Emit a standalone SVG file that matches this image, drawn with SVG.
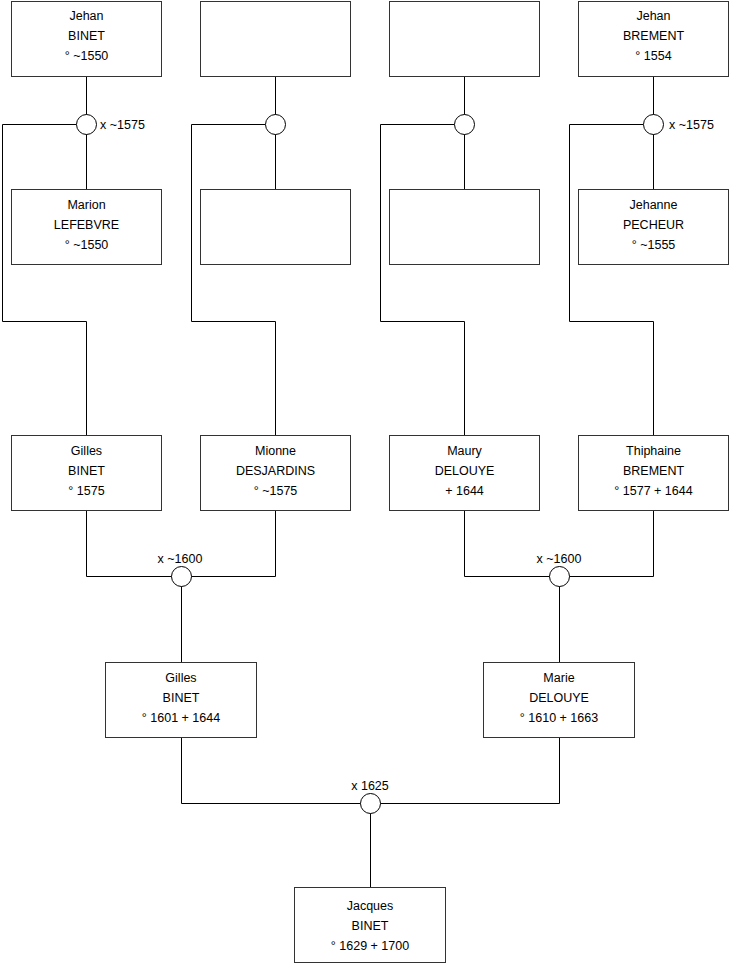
<svg xmlns="http://www.w3.org/2000/svg" width="740" height="975" viewBox="0 0 740 975">
<style>
.box{fill:#fff;stroke:#333;stroke-width:1}
.ln{fill:none;stroke:#000;stroke-width:1}
.ring{fill:#fff;stroke:#000;stroke-width:1}
text{font-family:"Liberation Sans",Arial,sans-serif;font-size:12.5px;fill:#000}
.c{text-anchor:middle}
</style>
<rect width="740" height="975" fill="#fff"/>
<g id="connectors">
<path class="ln" d="M86.5 76V190M76.5 124.5H2.5V321.5H86.5V435"/>
<path class="ln" d="M275.5 76V190M265.5 124.5H191.5V321.5H275.5V435"/>
<path class="ln" d="M464.5 76V190M454.5 124.5H380.5V321.5H464.5V435"/>
<path class="ln" d="M653.5 76V190M643.5 124.5H569.5V321.5H653.5V435"/>
<path class="ln" d="M86.5 511V576.5H275.5V511M181.5 576.5V662"/>
<path class="ln" d="M464.5 511V576.5H653.5V511M559.5 576.5V662"/>
<path class="ln" d="M181.5 737V803.5H559.5V737M370.5 803.5V888"/>
<circle class="ring" cx="86.5" cy="124.5" r="10"/>
<circle class="ring" cx="275.5" cy="124.5" r="10"/>
<circle class="ring" cx="464.5" cy="124.5" r="10"/>
<circle class="ring" cx="653.5" cy="124.5" r="10"/>
<circle class="ring" cx="181.5" cy="576.5" r="10"/>
<circle class="ring" cx="559.5" cy="576.5" r="10"/>
<circle class="ring" cx="370.5" cy="803.5" r="10"/>
<text x="100" y="129">x ~1575</text>
<text x="669" y="129">x ~1575</text>
<text class="c" x="180" y="563">x ~1600</text>
<text class="c" x="559" y="563">x ~1600</text>
<text class="c" x="370" y="790">x 1625</text>
</g>
<g id="n1"><rect class="box" x="11.5" y="1.5" width="150" height="75"/><text class="c" x="86.5" y="20">Jehan</text><text class="c" x="86.5" y="40">BINET</text><text class="c" x="86.5" y="60">° ~1550</text></g>
<g id="n2"><rect class="box" x="200.5" y="1.5" width="150" height="75"/></g>
<g id="n3"><rect class="box" x="389.5" y="1.5" width="150" height="75"/></g>
<g id="n4"><rect class="box" x="578.5" y="1.5" width="150" height="75"/><text class="c" x="653.5" y="20">Jehan</text><text class="c" x="653.5" y="40">BREMENT</text><text class="c" x="653.5" y="60">° 1554</text></g>
<g id="n5"><rect class="box" x="11.5" y="189.5" width="150" height="75"/><text class="c" x="86.5" y="209">Marion</text><text class="c" x="86.5" y="229">LEFEBVRE</text><text class="c" x="86.5" y="249">° ~1550</text></g>
<g id="n6"><rect class="box" x="200.5" y="189.5" width="150" height="75"/></g>
<g id="n7"><rect class="box" x="389.5" y="189.5" width="150" height="75"/></g>
<g id="n8"><rect class="box" x="578.5" y="189.5" width="150" height="75"/><text class="c" x="653.5" y="209">Jehanne</text><text class="c" x="653.5" y="229">PECHEUR</text><text class="c" x="653.5" y="249">° ~1555</text></g>
<g id="n9"><rect class="box" x="11.5" y="435.5" width="150" height="75"/><text class="c" x="86.5" y="455">Gilles</text><text class="c" x="86.5" y="475">BINET</text><text class="c" x="86.5" y="495">° 1575</text></g>
<g id="n10"><rect class="box" x="200.5" y="435.5" width="150" height="75"/><text class="c" x="275.5" y="455">Mionne</text><text class="c" x="275.5" y="475">DESJARDINS</text><text class="c" x="275.5" y="495">° ~1575</text></g>
<g id="n11"><rect class="box" x="389.5" y="435.5" width="150" height="75"/><text class="c" x="464.5" y="455">Maury</text><text class="c" x="464.5" y="475">DELOUYE</text><text class="c" x="464.5" y="495">+ 1644</text></g>
<g id="n12"><rect class="box" x="578.5" y="435.5" width="150" height="75"/><text class="c" x="653.5" y="455">Thiphaine</text><text class="c" x="653.5" y="475">BREMENT</text><text class="c" x="653.5" y="495">° 1577 + 1644</text></g>
<g id="n13"><rect class="box" x="105.5" y="662.5" width="151" height="75"/><text class="c" x="181" y="682">Gilles</text><text class="c" x="181" y="702">BINET</text><text class="c" x="181" y="722">° 1601 + 1644</text></g>
<g id="n14"><rect class="box" x="483.5" y="662.5" width="151" height="75"/><text class="c" x="559" y="682">Marie</text><text class="c" x="559" y="702">DELOUYE</text><text class="c" x="559" y="722">° 1610 + 1663</text></g>
<g id="n15"><rect class="box" x="294.5" y="887.5" width="151" height="75"/><text class="c" x="370" y="910">Jacques</text><text class="c" x="370" y="930">BINET</text><text class="c" x="370" y="950">° 1629 + 1700</text></g>
</svg>
